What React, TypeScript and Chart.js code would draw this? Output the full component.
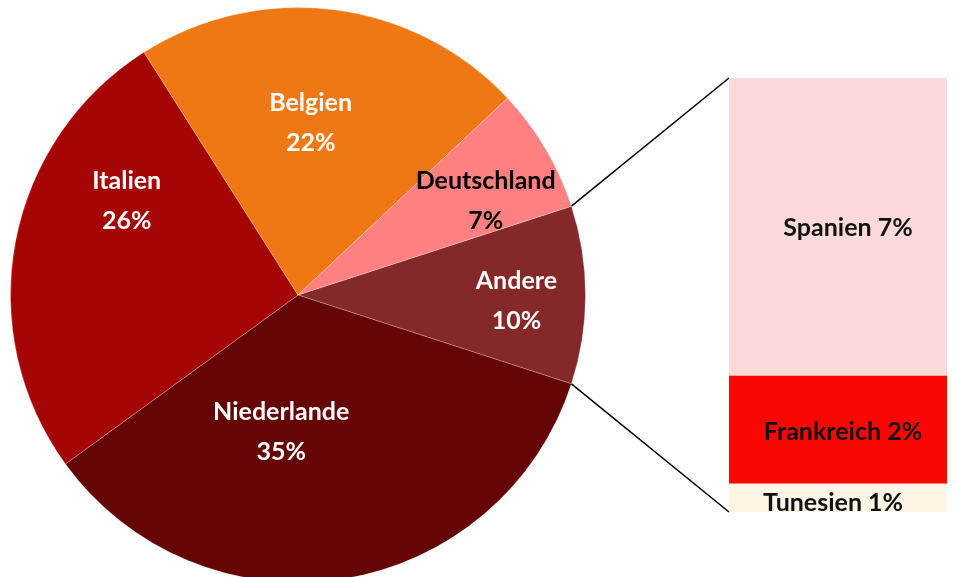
import React, { useEffect, useRef } from "react";
import { Chart, registerables } from "chart.js";

Chart.register(...registerables);

// Pie data (clockwise, starting with "Andere")
const pieLabels = ["Andere", "Niederlande", "Italien", "Belgien", "Deutschland"];
const pieValues = [10, 35, 26, 22, 7];
const pieColors = ["#85282A", "#650505", "#A50504", "#F07814", "#FF8080"];
const pieTextColors = ["#FFFFFF", "#FFFFFF", "#FFFFFF", "#FFFFFF", "#000000"];

// Breakdown of "Andere" (bottom to top)
const barLabels = ["Tunesien", "Frankreich", "Spanien"];
const barValues = [0.65, 2.5, 6.9];
const barPctText = ["1%", "2%", "7%"];
const barColors = ["#FEF5E6", "#FB0505", "#FDD9D9"];

// label placement tweaks (angle shift in degrees, radius fraction)
const pieLabelAngleShift = [1.6, 16, 18, -3, 4];
const pieLabelRadius = [0.76, 0.48, 0.68, 0.6, 0.73];
const barLabelDx = [-5, 5, 10];
const barLabelDy = [5, 2, 1];

const FONT = "Lato, 'Open Sans', sans-serif";
const PIE_LEFT = 10;
const PIE_TOP = 7;
const PIE_SIZE = 576;

export default function App() {
  const pieRef = useRef<HTMLCanvasElement>(null);
  const barRef = useRef<HTMLCanvasElement>(null);

  useEffect(() => {
    const pieLabelPlugin = {
      id: "pieLabelPlugin",
      afterDatasetsDraw(chart: any) {
        const ctx = chart.ctx;
        const meta = chart.getDatasetMeta(0);
        ctx.save();
        ctx.font = `bold 25px ${FONT}`;
        ctx.textAlign = "center";
        ctx.textBaseline = "middle";
        meta.data.forEach((arc: any, i: number) => {
          const p = arc.getProps(["x", "y", "startAngle", "endAngle", "outerRadius"], true);
          const mid = (p.startAngle + p.endAngle) / 2 + (pieLabelAngleShift[i] * Math.PI) / 180;
          const r = p.outerRadius * pieLabelRadius[i];
          const cx = p.x + Math.cos(mid) * r;
          const cy = p.y + Math.sin(mid) * r;
          ctx.fillStyle = pieTextColors[i];
          ctx.fillText(pieLabels[i], cx, cy - 20);
          ctx.fillText(Math.round(pieValues[i]) + "%", cx, cy + 20);
        });
        ctx.restore();
      },
    };

    const pie = new Chart(pieRef.current!, {
      type: "pie",
      data: {
        labels: pieLabels,
        datasets: [
          {
            data: pieValues,
            backgroundColor: pieColors,
            borderColor: "rgba(255,255,255,0.25)",
            borderWidth: 1,
          },
        ],
      },
      options: {
        responsive: false,
        animation: false,
        rotation: 72,
        layout: { padding: 0 },
        plugins: { legend: { display: false }, tooltip: { enabled: false } },
      },
      plugins: [pieLabelPlugin],
    });

    const connectorPlugin = {
      id: "connectorPlugin",
      afterDatasetsDraw(chart: any) {
        const ctx = chart.ctx;
        const arc: any = pie.getDatasetMeta(0).data[0];
        const p = arc.getProps(["x", "y", "startAngle", "endAngle", "outerRadius"], true);
        const x0 = PIE_LEFT + p.x;
        const y0 = PIE_TOP + p.y;
        const ca = chart.chartArea;
        const ax = x0 + Math.cos(p.startAngle) * p.outerRadius;
        const ay = y0 + Math.sin(p.startAngle) * p.outerRadius;
        const bx = x0 + Math.cos(p.endAngle) * p.outerRadius;
        const by = y0 + Math.sin(p.endAngle) * p.outerRadius;
        ctx.save();
        ctx.strokeStyle = "#000000";
        ctx.lineWidth = 1.5;
        ctx.beginPath();
        ctx.moveTo(ax, ay);
        ctx.lineTo(ca.left, ca.top);
        ctx.moveTo(bx, by);
        ctx.lineTo(ca.left, ca.bottom);
        ctx.stroke();

        ctx.font = `bold 25px ${FONT}`;
        ctx.textAlign = "center";
        ctx.textBaseline = "middle";
        ctx.fillStyle = "#111111";
        chart.data.datasets.forEach((_: any, i: number) => {
          const el: any = chart.getDatasetMeta(i).data[0];
          const b = el.getProps(["x", "y", "base"], true);
          const cy = (b.y + b.base) / 2;
          ctx.fillText(`${barLabels[i]} ${barPctText[i]}`, b.x + barLabelDx[i], cy + barLabelDy[i]);
        });
        ctx.restore();
      },
    };

    const total = barValues.reduce((a, b) => a + b, 0);
    const bar = new Chart(barRef.current!, {
      type: "bar",
      data: {
        labels: ["Andere"],
        datasets: barLabels.map((l, i) => ({
          label: l,
          data: [barValues[i]],
          backgroundColor: barColors[i],
          borderWidth: 0,
          barPercentage: 1,
          categoryPercentage: 1,
        })),
      },
      options: {
        responsive: false,
        animation: false,
        layout: { padding: { left: 729, right: 11, top: 78, bottom: 65 } },
        scales: {
          x: { stacked: true, display: false },
          y: { stacked: true, display: false, min: 0, max: total },
        },
        plugins: { legend: { display: false }, tooltip: { enabled: false } },
      },
      plugins: [connectorPlugin],
    });

    return () => {
      bar.destroy();
      pie.destroy();
    };
  }, []);

  return (
    <div
      style={{
        position: "fixed",
        left: 0,
        top: 0,
        width: 958,
        height: 577,
        overflow: "hidden",
        background: "#FFFFFF",
      }}
    >
      <canvas
        ref={pieRef}
        width={PIE_SIZE}
        height={PIE_SIZE}
        style={{ position: "absolute", left: PIE_LEFT, top: PIE_TOP, width: PIE_SIZE, height: PIE_SIZE }}
      />
      <canvas
        ref={barRef}
        width={958}
        height={577}
        style={{ position: "absolute", left: 0, top: 0, width: 958, height: 577, pointerEvents: "none" }}
      />
    </div>
  );
}
